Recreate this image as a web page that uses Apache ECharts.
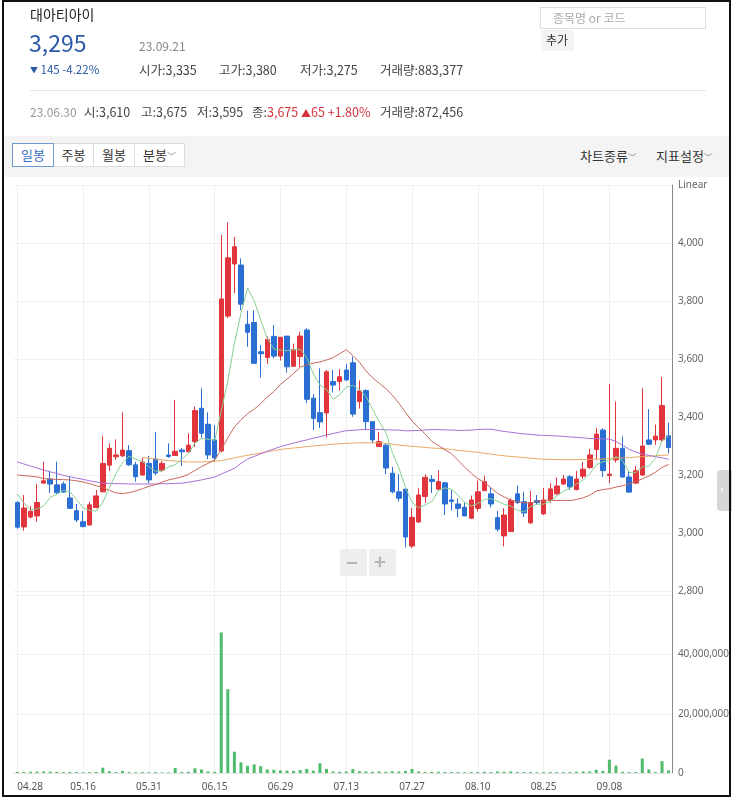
<!DOCTYPE html>
<html><head><meta charset="utf-8">
<script src="https://cdn.jsdelivr.net/npm/echarts@6/dist/echarts.min.js"></script>
<style>
html,body{margin:0;padding:0;background:#fff;}
body{width:732px;height:800px;position:relative;overflow:hidden;font-family:"Noto Sans CJK KR","Noto Sans",sans-serif;color:#333;}
#chart{position:absolute;left:0;top:0;width:732px;height:800px;}
.a{position:absolute;white-space:nowrap;line-height:1;}
#frame{position:absolute;left:2px;top:0;width:729px;height:797px;box-sizing:border-box;border:2px solid #111;pointer-events:none;z-index:10;}
#toolbar{position:absolute;left:4px;top:136px;width:725px;height:41px;background:#f4f4f4;}
.btn{position:absolute;top:143px;height:24px;box-sizing:border-box;border:1px solid #dcdcdc;background:#fff;font-size:13px;color:#333;text-align:center;line-height:22px;}
</style></head>
<body>
<div id="chart"></div>
<div id="toolbar"></div>
<div class="a" style="left:30px;top:7px;font-size:14px;color:#222;">대아티아이</div>
<div class="a" style="left:29px;top:31px;font-size:23px;color:#2c5aa8;">3,295</div>
<div class="a" style="left:139px;top:40px;font-size:12px;color:#888;">23.09.21</div>
<div class="a" style="left:30px;top:64px;font-size:11.5px;color:#2c5aa8;"><span style="font-size:8px;position:relative;top:-1px;">▼</span> 145 -4.22%</div>
<div class="a" style="left:139px;top:64px;font-size:12.5px;color:#444;">시가:3,335</div>
<div class="a" style="left:219px;top:64px;font-size:12.5px;color:#444;">고가:3,380</div>
<div class="a" style="left:300px;top:64px;font-size:12.5px;color:#444;">저가:3,275</div>
<div class="a" style="left:380px;top:64px;font-size:12.5px;color:#444;">거래량:883,377</div>
<div style="position:absolute;left:30px;top:90px;width:676px;height:1px;background:#e6e6e6;"></div>
<div class="a" style="left:30px;top:106px;font-size:12px;color:#999;">23.06.30</div>
<div class="a" style="left:84px;top:106px;font-size:12.5px;color:#444;">시:3,610</div>
<div class="a" style="left:141px;top:106px;font-size:12.5px;color:#444;">고:3,675</div>
<div class="a" style="left:197px;top:106px;font-size:12.5px;color:#444;">저:3,595</div>
<div class="a" style="left:252px;top:106px;font-size:12.5px;color:#444;">종:<span style="color:#d9333a;">3,675 <span style="font-size:10px;">▲</span>65 +1.80%</span></div>
<div class="a" style="left:380px;top:106px;font-size:12.5px;color:#444;">거래량:872,456</div>
<div style="position:absolute;left:540px;top:7px;width:166px;height:22px;box-sizing:border-box;border:1px solid #dedede;"></div>
<div class="a" style="left:553px;top:12px;font-size:12px;color:#aaa;">종목명 or 코드</div>
<div style="position:absolute;left:541px;top:30px;width:33px;height:21px;background:#f3f3f3;"></div>
<div class="a" style="left:546px;top:34px;font-size:12px;color:#333;">추가</div>
<div class="btn" style="left:12px;width:42px;border-color:#6f9ad3;color:#3a6fc0;z-index:2;">일봉</div>
<div class="btn" style="left:53px;width:41px;">주봉</div>
<div class="btn" style="left:93px;width:42px;">월봉</div>
<div class="btn" style="left:134px;width:51px;">분봉<span style="font-size:9px;color:#888;">﹀</span></div>
<div class="a" style="left:580px;top:149px;font-size:13px;color:#333;">차트종류<span style="font-size:9px;color:#888;">﹀</span></div>
<div class="a" style="left:656px;top:149px;font-size:13px;color:#333;">지표설정<span style="font-size:9px;color:#888;">﹀</span></div>
<div style="position:absolute;left:340px;top:549px;width:56px;height:27px;background:#eeeeee;border-radius:2px;"></div>
<div style="position:absolute;left:367px;top:549px;width:2px;height:27px;background:#fff;"></div>
<div class="a" style="left:346px;top:552px;font-size:20px;color:#b5b5b5;font-weight:bold;">−</div>
<div class="a" style="left:374px;top:551px;font-size:20px;color:#b5b5b5;font-weight:bold;">+</div>
<div style="position:absolute;left:717px;top:470px;width:15px;height:41px;background:#d6d6d6;border-radius:4px 0 0 4px;"></div>
<div class="a" style="left:720px;top:481px;font-size:14px;color:#fff;">‹</div>
<div id="frame"></div>
<script>
const dates = ["04.28","05.02","05.03","05.04","05.08","05.09","05.10","05.11","05.12","05.15",
"05.16","05.17","05.18","05.19","05.22","05.23","05.24","05.25","05.26","05.30",
"05.31","06.01","06.02","06.05","06.07","06.08","06.09","06.12","06.13","06.14",
"06.15","06.16","06.19","06.20","06.21","06.22","06.23","06.26","06.27","06.28",
"06.29","06.30","07.03","07.04","07.05","07.06","07.07","07.10","07.11","07.12",
"07.13","07.14","07.17","07.18","07.19","07.20","07.21","07.24","07.25","07.26",
"07.27","07.28","07.31","08.01","08.02","08.03","08.04","08.07","08.08","08.09",
"08.10","08.11","08.14","08.16","08.17","08.18","08.21","08.22","08.23","08.24",
"08.25","08.28","08.29","08.30","08.31","09.01","09.04","09.05","09.06","09.07",
"09.08","09.11","09.12","09.13","09.14","09.15","09.18","09.19","09.20","09.21"];

const opens = [3105,3021,3055,3059,3172,3186,3166,3169,3121,3077,
3039,3028,3088,3142,3234,3263,3266,3284,3235,3200,
3240,3255,3216,3269,3267,3286,3280,3315,3430,3375,
3321,3283,3748,3928,3924,3720,3726,3625,3605,3678,
3610,3679,3575,3608,3700,3465,3415,3414,3522,3522,
3562,3587,3453,3491,3384,3298,3303,3206,3142,3151,
2955,3038,3126,3185,3151,3173,3114,3100,3089,3051,
3085,3146,3135,3053,2990,3005,3135,3108,3035,3112,
3066,3112,3135,3169,3194,3150,3196,3226,3288,3355,
3198,3252,3292,3193,3172,3200,3321,3321,3321,3335];

const closes = [3020,3086,3075,3105,3180,3169,3139,3141,3085,3045,
3022,3097,3128,3240,3292,3269,3286,3235,3194,3245,
3183,3207,3240,3264,3282,3280,3303,3422,3344,3269,
3259,3807,3949,3987,3789,3692,3585,3618,3667,3610,
3675,3573,3633,3679,3461,3395,3383,3556,3510,3539,
3528,3410,3490,3384,3321,3315,3224,3142,3120,2986,
3054,3131,3192,3178,3177,3100,3109,3085,3059,3114,
3142,3177,3100,3013,3062,3112,3105,3069,3105,3105,
3114,3152,3162,3186,3159,3186,3220,3269,3341,3215,
3203,3292,3193,3141,3215,3300,3306,3334,3440,3295];

const highs = [3110,3131,3093,3169,3246,3215,3246,3177,3194,3100,
3076,3108,3148,3335,3309,3323,3416,3303,3245,3259,
3266,3349,3248,3309,3459,3293,3344,3436,3499,3416,
3372,4028,4071,4021,3947,3767,3767,3648,3677,3717,
3675,3679,3653,3694,3706,3479,3568,3562,3562,3565,
3583,3608,3526,3495,3386,3349,3310,3228,3203,3152,
3086,3154,3202,3200,3216,3176,3148,3120,3105,3129,
3181,3197,3157,3076,3086,3120,3164,3142,3145,3131,
3155,3172,3192,3200,3200,3214,3245,3290,3362,3361,
3514,3453,3333,3214,3231,3499,3427,3374,3538,3380];

const lows = [3015,3008,3050,3039,3170,3138,3135,3139,3083,3038,
3020,3025,3085,3141,3214,3252,3262,3231,3177,3198,
3172,3200,3210,3259,3266,3231,3279,3297,3329,3255,
3248,3279,3741,3827,3769,3642,3583,3536,3583,3603,
3595,3553,3572,3572,3448,3355,3362,3329,3485,3491,
3524,3401,3429,3358,3310,3297,3203,3137,3108,2950,
2948,3035,3104,3138,3148,3062,3078,3054,3057,3048,
3074,3145,3088,3005,2954,3004,3100,3055,3031,3100,
3062,3104,3131,3166,3148,3147,3186,3221,3255,3193,
3172,3243,3191,3138,3169,3197,3304,3304,3314,3275];

const volumes = [350000,300000,400000,450000,500000,450000,400000,300000,350000,300000,
250000,300000,350000,1800000,600000,300000,700000,300000,250000,300000,
250000,300000,200000,200000,1700000,300000,400000,1600000,1200000,500000,
400000,47500000,28300000,7200000,3600000,2400000,2900000,2300000,1200000,1100000,
872456,800000,700000,1000000,1400000,800000,3300000,1400000,500000,400000,
500000,1300000,600000,500000,400000,500000,400000,600000,500000,700000,
1400000,500000,300000,350000,400000,350000,300000,300000,250000,300000,
300000,400000,300000,500000,400000,500000,300000,300000,300000,250000,
300000,300000,300000,300000,300000,400000,500000,500000,1100000,700000,
4500000,2500000,400000,300000,300000,4900000,1200000,300000,4000000,883377];

const ma5Head = [3134,3104,3079,3083];
const ma20Head = [3200,3198,3196,3193,3188,3186,3185,3184,3183,3180,3176,3170,3163,3157,3147,3138,3136,3139,3145];
const ma60Head = [3245,3238,3231,3224,3217,3211,3205,3199,3194,3189,
3185,3180,3176,3172,3171,3170,3170,3169,3169,3169,
3169,3169,3170,3170,3171,3172,3175,3179,3183,3188,
3193,3203,3213,3223,3240,3255,3264,3273,3282,3290,
3298,3304,3310,3316,3321,3327,3332,3338,3343,3348,
3353,3354,3356,3357,3357,3357,3356,3355,3355];
const ma120 = ['-','-','-','-','-','-','-','-','-','-',
'-','-','-','-','-','-','-','-','-',3260,
3258,3255,3252,3250,3248,3246,3245,3245,3245,3246,
3247,3250,3254,3259,3264,3268,3272,3276,3280,3284,
3288,3291,3293,3295,3298,3300,3302,3304,3306,3308,
3309,3310,3311,3311,3311,3311,3309,3306,3303,3301,
3299,3297,3295,3293,3292,3290,3288,3285,3283,3280,
3278,3275,3272,3269,3266,3264,3262,3260,3258,3256,
3254,3254,3253,3253,3253,3253,3253,3254,3254,3255,
3257,3258,3259,3260,3262,3263,3265,3266,3268,3269];

function movingAverage(vals, n, head) {
  return vals.map(function (_, i) {
    if (i < head.length) return head[i];
    let s = 0;
    for (let k = i - n + 1; k <= i; k++) s += vals[k];
    return +(s / n).toFixed(1);
  });
}

const UP = '#e2343c', DOWN = '#2b6fd4';
const fmt = v => String(v).replace(/\B(?=(\d{3})+(?!\d))/g, ',');
const chart = echarts.init(document.getElementById('chart'), null, {renderer: 'canvas'});
const gridL = 14, gridR = 60;
const lineBase = {type: 'line', xAxisIndex: 0, yAxisIndex: 0, showSymbol: false, symbol: 'none', silent: true, z: 5};
chart.setOption({
  animation: false,
  textStyle: {fontFamily: '"Noto Sans", "Noto Sans CJK KR", sans-serif'},
  grid: [
    {left: gridL, right: gridR, top: 185, height: 406},
    {left: gridL, right: gridR, top: 591, height: 182}
  ],
  xAxis: [
    {type: 'category', gridIndex: 0, data: dates, boundaryGap: true,
     axisLine: {show: false}, axisTick: {show: false}, axisLabel: {show: false},
     splitLine: {show: true, interval: 9, alignWithLabel: true, lineStyle: {color: '#efefef'}}},
    {type: 'category', gridIndex: 1, data: dates, boundaryGap: true,
     axisLine: {show: true, lineStyle: {color: '#e4e4e4'}}, axisTick: {show: false},
     axisLabel: {interval: 9, color: '#555', fontSize: 10, margin: 9, alignMinLabel: 'left'},
     splitLine: {show: true, interval: 9, alignWithLabel: true, lineStyle: {color: '#efefef'}}}
  ],
  yAxis: [
    {type: 'value', gridIndex: 0, position: 'right', min: 2800, max: 4200, interval: 200,
     axisLine: {show: true, lineStyle: {color: '#8a8a8a'}}, axisTick: {show: false},
     axisLabel: {color: '#666', fontSize: 10, margin: 6, formatter: v => v === 4200 ? 'Linear' : fmt(v)},
     splitLine: {show: true, lineStyle: {color: '#efefef'}}},
    {type: 'value', gridIndex: 1, position: 'right', min: 0, max: 61500000, interval: 20000000,
     axisLine: {show: true, lineStyle: {color: '#8a8a8a'}}, axisTick: {show: false},
     axisLabel: {color: '#666', fontSize: 10, margin: 6, formatter: v => (v % 20000000 === 0 && v < 60000000) ? fmt(v) : ''},
     splitLine: {show: true, lineStyle: {color: '#efefef'}}}
  ],
  series: [
    {type: 'candlestick', xAxisIndex: 0, yAxisIndex: 0, barWidth: '76%', z: 3,
     data: opens.map((o, i) => [o, closes[i], lows[i], highs[i]]),
     itemStyle: {color: UP, color0: DOWN, borderColor: UP, borderColor0: DOWN, borderWidth: 1}},
    Object.assign({}, lineBase, {name: 'MA120', data: ma120, lineStyle: {width: 1, color: '#eba862'}}),
    Object.assign({}, lineBase, {name: 'MA60', data: movingAverage(closes, 60, ma60Head), lineStyle: {width: 1, color: '#a86fd8'}}),
    Object.assign({}, lineBase, {name: 'MA20', data: movingAverage(closes, 20, ma20Head), lineStyle: {width: 1, color: '#c8675c'}}),
    Object.assign({}, lineBase, {name: 'MA5', data: movingAverage(closes, 5, ma5Head), lineStyle: {width: 1, color: '#86cf90'}}),
    {type: 'bar', xAxisIndex: 1, yAxisIndex: 1, barWidth: 3, data: volumes,
     itemStyle: {color: '#4fbb6c'}}
  ]
});
</script>
</body></html>
